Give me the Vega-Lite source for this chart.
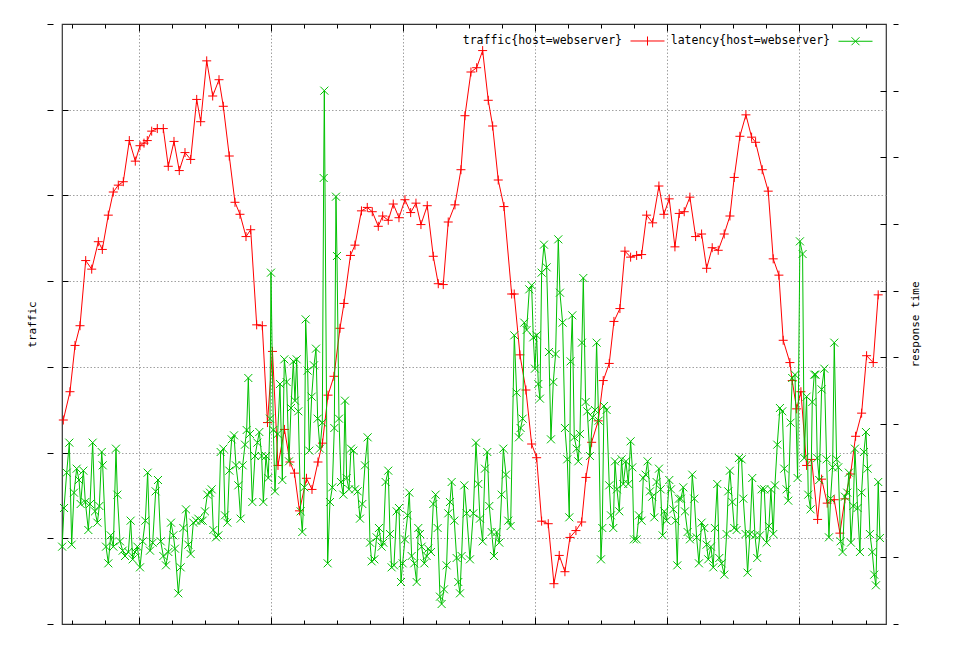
{
  "$schema": "https://vega.github.io/schema/vega-lite/v6.json",
  "width": 824,
  "height": 600,
  "autosize": "none",
  "padding": {"left": 62, "top": 24, "right": 70, "bottom": 21},
  "background": "#ffffff",
  "config": {
    "view": {"stroke": "#333333", "strokeWidth": 1.2},
    "axis": {"labels": false, "domain": false, "grid": false, "tickColor": "#000000", "tickWidth": 1,
      "titleFont": "DejaVu Sans Mono", "titleFontSize": 11, "titleFontWeight": "normal", "titleColor": "#000000",
      "gridColor": "#a0a0a0", "gridDash": [1.5, 2], "gridWidth": 1, "gridOpacity": 1}
  },
  "datasets": {
    "traffic": [
      {"t":1.725,"traffic":238},{"t":1.927,"traffic":271},{"t":2.079,"traffic":325},{"t":2.23,"traffic":348},{"t":2.402,"traffic":424},{"t":2.584,"traffic":414},{"t":2.784,"traffic":446},{"t":2.905,"traffic":437},{"t":3.086,"traffic":477},{"t":3.237,"traffic":504},{"t":3.389,"traffic":512},{"t":3.54,"traffic":516},{"t":3.722,"traffic":564},{"t":3.903,"traffic":540},{"t":4.045,"traffic":558},{"t":4.166,"traffic":561},{"t":4.266,"traffic":564},{"t":4.399,"traffic":575},{"t":4.569,"traffic":578},{"t":4.75,"traffic":578},{"t":4.901,"traffic":534},{"t":5.074,"traffic":563},{"t":5.234,"traffic":529},{"t":5.407,"traffic":550},{"t":5.579,"traffic":542},{"t":5.761,"traffic":612},{"t":5.882,"traffic":586},{"t":6.064,"traffic":657},{"t":6.245,"traffic":616},{"t":6.436,"traffic":635},{"t":6.566,"traffic":604},{"t":6.747,"traffic":546},{"t":6.92,"traffic":492},{"t":7.071,"traffic":478},{"t":7.253,"traffic":452},{"t":7.395,"traffic":460},{"t":7.576,"traffic":349},{"t":7.746,"traffic":348},{"t":7.903,"traffic":235},{"t":8.054,"traffic":318},{"t":8.221,"traffic":185},{"t":8.417,"traffic":227},{"t":8.584,"traffic":189},{"t":8.72,"traffic":176},{"t":8.871,"traffic":132},{"t":9.083,"traffic":170},{"t":9.25,"traffic":157},{"t":9.431,"traffic":189},{"t":9.567,"traffic":211},{"t":9.734,"traffic":267},{"t":9.915,"traffic":289},{"t":10.097,"traffic":345},{"t":10.218,"traffic":374},{"t":10.414,"traffic":430},{"t":10.55,"traffic":442},{"t":10.747,"traffic":482},{"t":10.923,"traffic":486},{"t":11.074,"traffic":481},{"t":11.256,"traffic":464},{"t":11.389,"traffic":476},{"t":11.558,"traffic":471},{"t":11.709,"traffic":490},{"t":11.882,"traffic":474},{"t":12.063,"traffic":495},{"t":12.236,"traffic":480},{"t":12.396,"traffic":491},{"t":12.547,"traffic":466},{"t":12.738,"traffic":488},{"t":12.92,"traffic":429},{"t":13.071,"traffic":397},{"t":13.222,"traffic":396},{"t":13.373,"traffic":469},{"t":13.576,"traffic":489},{"t":13.758,"traffic":530},{"t":13.879,"traffic":593},{"t":14.06,"traffic":644},{"t":14.233,"traffic":649},{"t":14.414,"traffic":669},{"t":14.584,"traffic":611},{"t":14.717,"traffic":581},{"t":14.886,"traffic":518},{"t":15.059,"traffic":487},{"t":15.292,"traffic":385},{"t":15.37,"traffic":385},{"t":15.543,"traffic":314},{"t":15.724,"traffic":273},{"t":15.897,"traffic":210},{"t":16.048,"traffic":194},{"t":16.199,"traffic":120},{"t":16.399,"traffic":117},{"t":16.571,"traffic":47},{"t":16.732,"traffic":80},{"t":16.904,"traffic":61},{"t":17.056,"traffic":101},{"t":17.237,"traffic":109},{"t":17.41,"traffic":119},{"t":17.54,"traffic":171},{"t":17.712,"traffic":212},{"t":17.912,"traffic":237},{"t":18.063,"traffic":284},{"t":18.245,"traffic":304},{"t":18.387,"traffic":353},{"t":18.568,"traffic":368},{"t":18.72,"traffic":435},{"t":18.892,"traffic":428},{"t":19.074,"traffic":430},{"t":19.225,"traffic":431},{"t":19.376,"traffic":477},{"t":19.558,"traffic":468},{"t":19.748,"traffic":511},{"t":19.9,"traffic":478},{"t":20.06,"traffic":496},{"t":20.233,"traffic":440},{"t":20.363,"traffic":479},{"t":20.514,"traffic":481},{"t":20.686,"traffic":498},{"t":20.859,"traffic":452},{"t":21.04,"traffic":455},{"t":21.192,"traffic":415},{"t":21.361,"traffic":439},{"t":21.543,"traffic":436},{"t":21.724,"traffic":455},{"t":21.897,"traffic":476},{"t":22.027,"traffic":521},{"t":22.199,"traffic":569},{"t":22.381,"traffic":594},{"t":22.553,"traffic":568},{"t":22.674,"traffic":562},{"t":22.874,"traffic":530},{"t":23.056,"traffic":505},{"t":23.207,"traffic":426},{"t":23.379,"traffic":407},{"t":23.509,"traffic":331},{"t":23.712,"traffic":305},{"t":23.782,"traffic":284},{"t":23.915,"traffic":251},{"t":24.045,"traffic":271},{"t":24.217,"traffic":185},{"t":24.369,"traffic":192},{"t":24.55,"traffic":122},{"t":24.671,"traffic":169},{"t":24.841,"traffic":141},{"t":25.053,"traffic":145},{"t":25.225,"traffic":106},{"t":25.376,"traffic":146},{"t":25.549,"traffic":175},{"t":25.7,"traffic":219},{"t":25.882,"traffic":246},{"t":26.033,"traffic":313},{"t":26.233,"traffic":305},{"t":26.384,"traffic":384}
    ],
    "latency": [
      {"t":1.69,"ms":116},{"t":1.746,"ms":174},{"t":1.827,"ms":227},{"t":1.907,"ms":272},{"t":1.978,"ms":119},{"t":2.048,"ms":197},{"t":2.129,"ms":233},{"t":2.2,"ms":216},{"t":2.25,"ms":180},{"t":2.331,"ms":230},{"t":2.391,"ms":183},{"t":2.482,"ms":141},{"t":2.533,"ms":180},{"t":2.613,"ms":272},{"t":2.684,"ms":169},{"t":2.755,"ms":152},{"t":2.815,"ms":177},{"t":2.886,"ms":258},{"t":2.916,"ms":238},{"t":3.017,"ms":116},{"t":3.087,"ms":91},{"t":3.158,"ms":133},{"t":3.239,"ms":116},{"t":3.319,"ms":263},{"t":3.36,"ms":194},{"t":3.44,"ms":124},{"t":3.521,"ms":110},{"t":3.592,"ms":102},{"t":3.693,"ms":108},{"t":3.763,"ms":155},{"t":3.824,"ms":97},{"t":3.894,"ms":108},{"t":3.965,"ms":116},{"t":4.045,"ms":85},{"t":4.126,"ms":124},{"t":4.207,"ms":155},{"t":4.277,"ms":227},{"t":4.348,"ms":110},{"t":4.429,"ms":122},{"t":4.52,"ms":199},{"t":4.59,"ms":216},{"t":4.671,"ms":124},{"t":4.752,"ms":102},{"t":4.832,"ms":88},{"t":4.903,"ms":108},{"t":4.983,"ms":152},{"t":5.054,"ms":133},{"t":5.104,"ms":113},{"t":5.205,"ms":46},{"t":5.276,"ms":85},{"t":5.357,"ms":144},{"t":5.437,"ms":172},{"t":5.508,"ms":119},{"t":5.578,"ms":105},{"t":5.659,"ms":152},{"t":5.74,"ms":155},{"t":5.81,"ms":158},{"t":5.881,"ms":155},{"t":5.941,"ms":155},{"t":6.012,"ms":169},{"t":6.083,"ms":194},{"t":6.163,"ms":197},{"t":6.214,"ms":202},{"t":6.264,"ms":141},{"t":6.345,"ms":130},{"t":6.416,"ms":133},{"t":6.486,"ms":258},{"t":6.567,"ms":263},{"t":6.617,"ms":163},{"t":6.688,"ms":152},{"t":6.749,"ms":230},{"t":6.819,"ms":277},{"t":6.89,"ms":283},{"t":6.95,"ms":238},{"t":7.021,"ms":208},{"t":7.091,"ms":158},{"t":7.152,"ms":238},{"t":7.223,"ms":269},{"t":7.273,"ms":291},{"t":7.323,"ms":369},{"t":7.374,"ms":285},{"t":7.444,"ms":183},{"t":7.525,"ms":252},{"t":7.596,"ms":272},{"t":7.656,"ms":288},{"t":7.727,"ms":252},{"t":7.777,"ms":183},{"t":7.858,"ms":252},{"t":7.928,"ms":219},{"t":7.979,"ms":308},{"t":8.009,"ms":527},
      {"t":8.08,"ms":291},{"t":8.13,"ms":199},{"t":8.211,"ms":285},{"t":8.281,"ms":360},{"t":8.352,"ms":216},{"t":8.413,"ms":397},{"t":8.483,"ms":363},{"t":8.554,"ms":244},{"t":8.614,"ms":324},{"t":8.685,"ms":394},{"t":8.735,"ms":335},{"t":8.786,"ms":397},{"t":8.836,"ms":319},{"t":8.907,"ms":169},{"t":8.957,"ms":138},{"t":9.018,"ms":205},{"t":9.058,"ms":457},{"t":9.119,"ms":380},{"t":9.169,"ms":260},{"t":9.24,"ms":341},{"t":9.31,"ms":388},{"t":9.371,"ms":413},{"t":9.421,"ms":308},{"t":9.492,"ms":263},{"t":9.562,"ms":302},{"t":9.603,"ms":669},{"t":9.623,"ms":800},{"t":9.724,"ms":91},{"t":9.794,"ms":183},{"t":9.865,"ms":205},{"t":9.925,"ms":294},{"t":9.976,"ms":641},{"t":10.006,"ms":552},{"t":10.067,"ms":308},{"t":10.127,"ms":213},{"t":10.198,"ms":194},{"t":10.248,"ms":335},{"t":10.299,"ms":219},{"t":10.369,"ms":202},{"t":10.43,"ms":263},{"t":10.5,"ms":260},{"t":10.551,"ms":202},{"t":10.632,"ms":199},{"t":10.702,"ms":158},{"t":10.773,"ms":180},{"t":10.853,"ms":238},{"t":10.934,"ms":280},{"t":11.005,"ms":122},{"t":11.055,"ms":94},{"t":11.136,"ms":97},{"t":11.206,"ms":130},{"t":11.277,"ms":144},{"t":11.358,"ms":116},{"t":11.408,"ms":122},{"t":11.479,"ms":213},{"t":11.558,"ms":230},{"t":11.61,"ms":135},{"t":11.66,"ms":85},{"t":11.731,"ms":88},{"t":11.812,"ms":169},{"t":11.882,"ms":174},{"t":11.943,"ms":63},{"t":11.993,"ms":91},{"t":12.063,"ms":127},{"t":12.144,"ms":163},{"t":12.195,"ms":197},{"t":12.265,"ms":102},{"t":12.346,"ms":91},{"t":12.417,"ms":63},{"t":12.467,"ms":144},{"t":12.518,"ms":135},{"t":12.568,"ms":116},{"t":12.649,"ms":91},{"t":12.719,"ms":102},{"t":12.77,"ms":113},{"t":12.85,"ms":108},{"t":12.921,"ms":180},{"t":12.991,"ms":194},{"t":13.052,"ms":144},{"t":13.123,"ms":41},{"t":13.173,"ms":30},{"t":13.244,"ms":52},{"t":13.324,"ms":88},{"t":13.375,"ms":166},{"t":13.425,"ms":183},{"t":13.476,"ms":213},{"t":13.556,"ms":155},{"t":13.627,"ms":99},{"t":13.677,"ms":63},{"t":13.728,"ms":46},{"t":13.778,"ms":102},{"t":13.859,"ms":208},{"t":13.93,"ms":166},
      {"t":14.03,"ms":97},{"t":14.131,"ms":166},{"t":14.212,"ms":272},{"t":14.282,"ms":210},{"t":14.333,"ms":158},{"t":14.414,"ms":124},{"t":14.484,"ms":233},{"t":14.555,"ms":258},{"t":14.615,"ms":177},{"t":14.686,"ms":138},{"t":14.756,"ms":102},{"t":14.837,"ms":138},{"t":14.918,"ms":122},{"t":14.988,"ms":194},{"t":15.039,"ms":263},{"t":15.12,"ms":224},{"t":15.19,"ms":155},{"t":15.261,"ms":147},{"t":15.372,"ms":433},{"t":15.442,"ms":347},{"t":15.513,"ms":280},{"t":15.563,"ms":294},{"t":15.624,"ms":308},{"t":15.674,"ms":452},{"t":15.745,"ms":441},{"t":15.826,"ms":502},{"t":15.896,"ms":508},{"t":15.947,"ms":430},{"t":15.997,"ms":383},{"t":16.048,"ms":433},{"t":16.098,"ms":360},{"t":16.148,"ms":338},{"t":16.199,"ms":527},{"t":16.269,"ms":569},{"t":16.35,"ms":535},{"t":16.421,"ms":408},{"t":16.481,"ms":277},{"t":16.552,"ms":363},{"t":16.622,"ms":405},{"t":16.703,"ms":577},{"t":16.753,"ms":497},{"t":16.834,"ms":452},{"t":16.905,"ms":294},{"t":16.975,"ms":247},{"t":17.036,"ms":160},{"t":17.076,"ms":394},{"t":17.127,"ms":463},{"t":17.187,"ms":280},{"t":17.258,"ms":263},{"t":17.308,"ms":244},{"t":17.359,"ms":285},{"t":17.419,"ms":422},{"t":17.46,"ms":519},{"t":17.53,"ms":333},{"t":17.581,"ms":319},{"t":17.661,"ms":252},{"t":17.742,"ms":310},{"t":17.813,"ms":321},{"t":17.863,"ms":422},{"t":17.924,"ms":305},{"t":17.994,"ms":97},{"t":18.035,"ms":144},{"t":18.085,"ms":327},{"t":18.166,"ms":321},{"t":18.246,"ms":208},{"t":18.297,"ms":163},{"t":18.367,"ms":144},{"t":18.418,"ms":244},{"t":18.478,"ms":202},{"t":18.549,"ms":169},{"t":18.619,"ms":247},{"t":18.67,"ms":210},{"t":18.75,"ms":244},{"t":18.821,"ms":210},{"t":18.892,"ms":274},{"t":18.942,"ms":235},{"t":18.992,"ms":127},{"t":19.073,"ms":127},{"t":19.144,"ms":163},{"t":19.224,"ms":155},{"t":19.275,"ms":219},{"t":19.346,"ms":224},{"t":19.406,"ms":244},{"t":19.477,"ms":199},{"t":19.547,"ms":191},{"t":19.608,"ms":160},{"t":19.678,"ms":213},{"t":19.749,"ms":233},{"t":19.799,"ms":202},{"t":19.86,"ms":133},{"t":19.91,"ms":169},{"t":19.981,"ms":155},{"t":20.062,"ms":216},{"t":20.112,"ms":202},{"t":20.183,"ms":172},{"t":20.253,"ms":155},{"t":20.304,"ms":88},{"t":20.354,"ms":188},{"t":20.415,"ms":188},{"t":20.485,"ms":205},
      {"t":20.536,"ms":169},{"t":20.616,"ms":138},{"t":20.687,"ms":127},{"t":20.757,"ms":224},{"t":20.818,"ms":188},{"t":20.889,"ms":130},{"t":20.959,"ms":91},{"t":21.04,"ms":152},{"t":21.121,"ms":144},{"t":21.191,"ms":119},{"t":21.242,"ms":97},{"t":21.322,"ms":116},{"t":21.393,"ms":85},{"t":21.443,"ms":144},{"t":21.514,"ms":210},{"t":21.574,"ms":99},{"t":21.645,"ms":91},{"t":21.726,"ms":74},{"t":21.796,"ms":135},{"t":21.847,"ms":199},{"t":21.897,"ms":230},{"t":21.968,"ms":183},{"t":22.028,"ms":144},{"t":22.099,"ms":141},{"t":22.17,"ms":249},{"t":22.25,"ms":247},{"t":22.301,"ms":188},{"t":22.371,"ms":135},{"t":22.432,"ms":77},{"t":22.502,"ms":135},{"t":22.573,"ms":219},{"t":22.654,"ms":133},{"t":22.724,"ms":99},{"t":22.805,"ms":133},{"t":22.855,"ms":202},{"t":22.936,"ms":202},{"t":23.007,"ms":122},{"t":23.077,"ms":147},{"t":23.138,"ms":202},{"t":23.208,"ms":135},{"t":23.259,"ms":208},{"t":23.33,"ms":269},{"t":23.41,"ms":324},{"t":23.481,"ms":319},{"t":23.541,"ms":233},{"t":23.612,"ms":202},{"t":23.662,"ms":185},{"t":23.733,"ms":302},{"t":23.783,"ms":369},{"t":23.864,"ms":374},{"t":23.945,"ms":219},{"t":24.015,"ms":574},{"t":24.096,"ms":555},{"t":24.146,"ms":249},{"t":24.217,"ms":341},{"t":24.267,"ms":194},{"t":24.338,"ms":172},{"t":24.389,"ms":333},{"t":24.449,"ms":374},{"t":24.489,"ms":374},{"t":24.54,"ms":249},{"t":24.6,"ms":216},{"t":24.671,"ms":352},{"t":24.752,"ms":383},{"t":24.822,"ms":247},{"t":24.893,"ms":130},{"t":24.943,"ms":188},{"t":25.004,"ms":235},{"t":25.054,"ms":422},{"t":25.125,"ms":247},{"t":25.175,"ms":235},{"t":25.246,"ms":124},{"t":25.306,"ms":108},{"t":25.377,"ms":191},{"t":25.448,"ms":197},{"t":25.498,"ms":227},{"t":25.559,"ms":122},{"t":25.629,"ms":177},{"t":25.68,"ms":263},{"t":25.76,"ms":174},{"t":25.831,"ms":108},{"t":25.881,"ms":197},{"t":25.952,"ms":258},{"t":26.013,"ms":288},{"t":26.063,"ms":233},{"t":26.133,"ms":135},{"t":26.204,"ms":108},{"t":26.264,"ms":74},{"t":26.315,"ms":58},{"t":26.385,"ms":213},{"t":26.436,"ms":129}
    ]
  },
  "layer": [
    {
      "data": {"name": "traffic"},
      "mark": {"type": "line", "strokeWidth": 1},
      "encoding": {
        "x": {"field": "t", "type": "quantitative", "scale": {"domain": [1.685, 26.62], "nice": false, "zero": false},
          "axis": {"orient": "bottom", "values": [4, 8, 12, 16, 20, 24], "tickSize": -7, "grid": true, "title": null}},
        "y": {"field": "traffic", "type": "quantitative", "scale": {"domain": [0, 700], "nice": false},
          "axis": {"orient": "left", "offset": 9, "tickSize": 6, "values": [0, 100, 200, 300, 400, 500, 600, 700], "title": "traffic", "titlePadding": 9}},
        "color": {"datum": "traffic{host=webserver}", "type": "nominal",
          "scale": {"domain": ["traffic{host=webserver}", "latency{host=webserver}"], "range": ["#ff0000", "#00c000"]},
          "legend": {"orient": "none", "legendX": 568, "legendY": -1, "direction": "horizontal", "title": null,
            "labelFont": "DejaVu Sans Mono", "labelFontSize": 11.5, "labelColor": "#000000", "labelLimit": 400,
            "labelAlign": "right", "labelOffset": -43, "symbolSize": 1156, "symbolStrokeWidth": 1,
            "columnPadding": 3, "padding": 0,
            "encode": {"symbols": {"update": {
              "shape": {"signal": "datum.value == 'traffic{host=webserver}' ? 'M-1,0H1M0,-0.265V0.265' : 'M-1,0H1M-0.235,-0.235L0.235,0.235M-0.235,0.235L0.235,-0.235'"},
              "fill": {"value": "transparent"}}}}}}
      }
    },
    {
      "data": {"name": "traffic"},
      "mark": {"type": "point", "shape": "M-1,0H1M0,-1V1", "size": 81, "filled": false, "stroke": "#ff0000", "strokeWidth": 1, "opacity": 1},
      "encoding": {
        "x": {"field": "t", "type": "quantitative", "scale": {"domain": [1.685, 26.62], "nice": false, "zero": false},
          "axis": {"orient": "top", "values": [4, 8, 12, 16, 20, 24], "tickSize": -7, "title": null}},
        "y": {"field": "traffic", "type": "quantitative", "scale": {"domain": [0, 700], "nice": false},
          "axis": {"orient": "left", "offset": 0, "tickSize": -6, "grid": true, "values": [100, 200, 300, 400, 500, 600], "title": null}}
      }
    },
    {
      "data": {"name": "latency"},
      "mark": {"type": "line", "strokeWidth": 1},
      "encoding": {
        "x": {"field": "t", "type": "quantitative", "scale": {"domain": [1.685, 26.62], "nice": false, "zero": false},
          "axis": {"orient": "bottom", "values": [2,3,4,5,6,7,8,9,10,11,12,13,14,15,16,17,18,19,20,21,22,23,24,25,26], "tickSize": -4, "title": null}},
        "y": {"field": "ms", "type": "quantitative", "scale": {"domain": [0, 900], "nice": false},
          "axis": {"orient": "right", "offset": 7, "tickSize": 5, "values": [0, 100, 200, 300, 400, 500, 600, 700, 800, 900], "title": "response time", "titleAngle": -90, "titleBaseline": "top", "titlePadding": 11}},
        "color": {"datum": "latency{host=webserver}", "type": "nominal"}
      }
    },
    {
      "data": {"name": "latency"},
      "mark": {"type": "point", "shape": "M-1,-1L1,1M-1,1L1,-1", "size": 64, "filled": false, "stroke": "#00c000", "strokeWidth": 1, "opacity": 1},
      "encoding": {
        "x": {"field": "t", "type": "quantitative", "scale": {"domain": [1.685, 26.62], "nice": false, "zero": false},
          "axis": {"orient": "top", "values": [2,3,4,5,6,7,8,9,10,11,12,13,14,15,16,17,18,19,20,21,22,23,24,25,26], "tickSize": -4, "title": null}},
        "y": {"field": "ms", "type": "quantitative", "scale": {"domain": [0, 900], "nice": false},
          "axis": {"orient": "right", "offset": 0, "tickSize": -6, "values": [100, 200, 300, 400, 500, 600, 700, 800], "title": null}}
      }
    }
  ],
  "resolve": {"scale": {"y": "independent"}, "axis": {"x": "independent", "y": "independent"}}
}
